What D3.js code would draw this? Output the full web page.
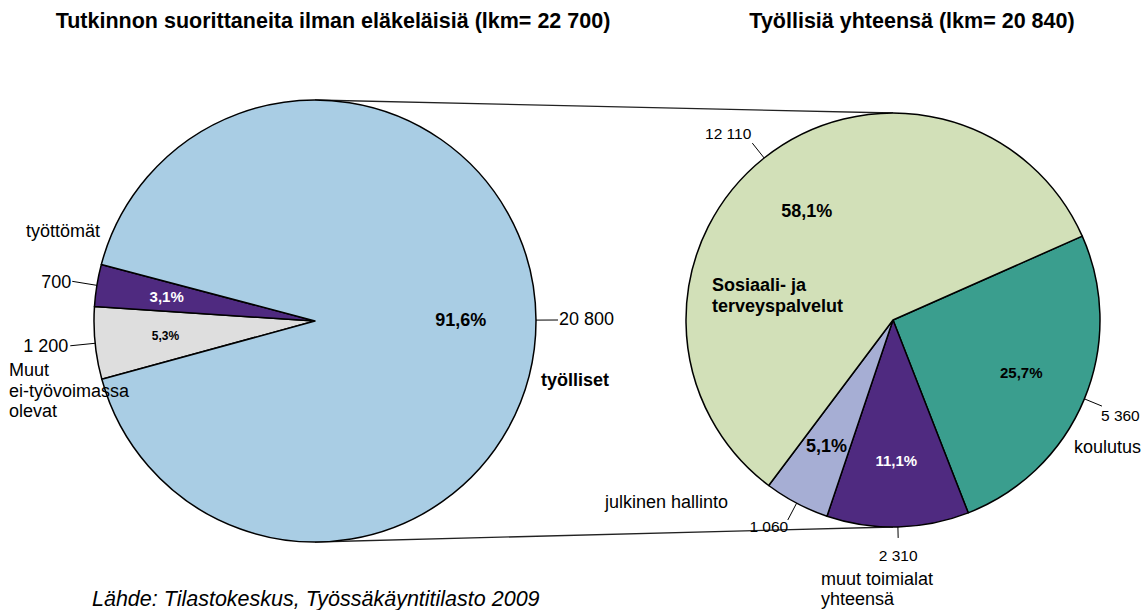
<!DOCTYPE html>
<html>
<head>
<meta charset="utf-8">
<script src="https://cdn.jsdelivr.net/npm/d3@7"></script>
<style>
  body { margin: 0; background: #fff; }
  svg { font-family: "Liberation Sans", Arial, sans-serif; }
</style>
</head>
<body>
<div id="wrapper"></div>
<script>
// data
const leftTitle = "Tutkinnon suorittaneita ilman eläkeläisiä (lkm= 22 700)"
const rightTitle = "Työllisiä yhteensä (lkm= 20 840)"
const source = "Lähde: Tilastokeskus, Työssäkäyntitilasto 2009"

const leftCats = ["Muut\nei-työvoimassa\nolevat", "työttömät", "työlliset"]
const leftValues = [1200, 700, 20800]
const leftValueLabels = ["1 200", "700", "20 800"]
const leftPctLabels = ["5,3%", "3,1%", "91,6%"]

const rightCats = ["koulutus", "muut toimialat\nyhteensä", "julkinen hallinto", "Sosiaali- ja\nterveyspalvelut"]
const rightValues = [5360, 2310, 1060, 12110]
const rightValueLabels = ["5 360", "2 310", "1 060", "12 110"]
const rightPctLabels = ["25,7%", "11,1%", "5,1%", "58,1%"]

const leftColors = ["#dedede", "#4f2a80", "#a9cde4"]
const rightColors = ["#3a9e8e", "#4f2a80", "#a6aed4", "#d2e0b8"]

async function drawPies() {
  const dimensions = { width: 1145, height: 610 }
  const deg = Math.PI / 180

  const left = {
    cx: 315, cy: 321, r: 221, start: 254.7 * deg,
    pctStyle: [
      { size: 12, fill: "#000" }, { size: 15, fill: "#fff" }, { size: 18, fill: "#000" }],
    pctR: [0.68, 0.68, 0.66],
    lead: [25, 25, 22],
    valStyle: [
      { anchor: "end", dx: -2, dy: 6 }, { anchor: "end", dx: -1, dy: 7 }, { anchor: "start", dx: 1, dy: 5 }],
    valSize: 18,
    cat: [
      { x: -306, y: 55, bold: false, lh: 20.5 }, { x: -289, y: -84, bold: false }, { x: 226, y: 65, bold: true }]
  }

  const right = {
    cx: 893, cy: 320, r: 207, start: 66.1 * deg,
    pctStyle: [
      { size: 15, fill: "#000" }, { size: 15, fill: "#fff" }, { size: 18, fill: "#000" }, { size: 18, fill: "#000" }],
    pctR: [0.67, 0.68, 0.69, 0.67],
    lead: [19, 11, 19, 19],
    valStyle: [
      { anchor: "start", dx: -1, dy: 15 }, { anchor: "middle", dx: 0, dy: 23 },
      { anchor: "middle", dx: -19, dy: 12 }, { anchor: "end", dx: -1, dy: -4 }],
    valSize: 15.5,
    cat: [
      { x: 181, y: 133, bold: false }, { x: -72, y: 265, bold: false, lh: 20 },
      { x: -288, y: 188, bold: false }, { x: -181, y: -29, bold: true, lh: 21 }]
  }

  const svg = d3.select("#wrapper")
    .append("svg")
    .attr("width", dimensions.width)
    .attr("height", dimensions.height)

  // titles
  svg.append("text")
    .attr("x", 333).attr("y", 28)
    .attr("text-anchor", "middle")
    .style("font-weight", "bold").style("font-size", "21.5px")
    .text(leftTitle)
  svg.append("text")
    .attr("x", 912).attr("y", 28)
    .attr("text-anchor", "middle")
    .style("font-weight", "bold").style("font-size", "21.5px")
    .text(rightTitle)

  // lines joining the two pies
  const joins = [[left.cy - left.r, right.cy - right.r], [left.cy + left.r, right.cy + right.r]]
  svg.selectAll(".join")
    .data(joins)
    .join("line")
    .attr("class", "join")
    .attr("x1", left.cx).attr("y1", d => d[0])
    .attr("x2", right.cx).attr("y2", d => d[1])
    .attr("stroke", "#222")
    .attr("stroke-width", 1.3)

  function drawPie(cfg, values, colors, valueLabels, pctLabels, cats) {
    const pie = d3.pie().sort(null).value(d => d)
      .startAngle(cfg.start).endAngle(cfg.start + 2 * Math.PI)
    const arcs = pie(values)
    const arc = d3.arc().innerRadius(0).outerRadius(cfg.r)
    const polar = (a, rad) => [Math.sin(a) * rad, -Math.cos(a) * rad]

    const g = svg.append("g")
      .attr("transform", `translate(${cfg.cx},${cfg.cy})`)

    g.selectAll(".slice")
      .data(arcs)
      .join("path")
      .attr("class", "slice")
      .attr("d", arc)
      .attr("fill", (d, i) => colors[i])
      .attr("stroke", "#000")
      .attr("stroke-width", 1.5)
      .attr("stroke-linejoin", "round")

    // percent labels
    g.selectAll(".pct")
      .data(arcs)
      .join("text")
      .attr("class", "pct")
      .attr("text-anchor", "middle")
      .attr("dominant-baseline", "central")
      .attr("x", (d, i) => polar((d.startAngle + d.endAngle) / 2, cfg.r * cfg.pctR[i])[0])
      .attr("y", (d, i) => polar((d.startAngle + d.endAngle) / 2, cfg.r * cfg.pctR[i])[1])
      .style("font-weight", "bold")
      .style("font-size", (d, i) => cfg.pctStyle[i].size + "px")
      .attr("fill", (d, i) => cfg.pctStyle[i].fill)
      .text((d, i) => pctLabels[i])

    // leader lines + value labels
    arcs.forEach((d, i) => {
      const mid = (d.startAngle + d.endAngle) / 2
      const p0 = polar(mid, cfg.r)
      const p1 = polar(mid, cfg.r + cfg.lead[i])
      g.append("line")
        .attr("x1", p0[0]).attr("y1", p0[1])
        .attr("x2", p1[0]).attr("y2", p1[1])
        .attr("stroke", "#000").attr("stroke-width", 1)
      const s = cfg.valStyle[i]
      g.append("text")
        .attr("x", p1[0] + s.dx).attr("y", p1[1] + s.dy)
        .attr("text-anchor", s.anchor)
        .style("font-size", cfg.valSize + "px")
        .text(valueLabels[i])
    })

    // category names
    cats.forEach((name, i) => {
      const c = cfg.cat[i]
      const t = g.append("text")
        .attr("x", c.x).attr("y", c.y)
        .style("font-size", "18px")
        .style("font-weight", c.bold ? "bold" : "normal")
      name.split("\n").forEach((line, k) => {
        t.append("tspan")
          .attr("x", c.x)
          .attr("dy", k === 0 ? 0 : c.lh)
          .text(line)
      })
    })
  }

  drawPie(left, leftValues, leftColors, leftValueLabels, leftPctLabels, leftCats)
  drawPie(right, rightValues, rightColors, rightValueLabels, rightPctLabels, rightCats)

  svg.append("text")
    .attr("x", 92).attr("y", 606)
    .style("font-style", "italic")
    .style("font-size", "21.5px")
    .text(source)
}

drawPies()
</script>
</body>
</html>
